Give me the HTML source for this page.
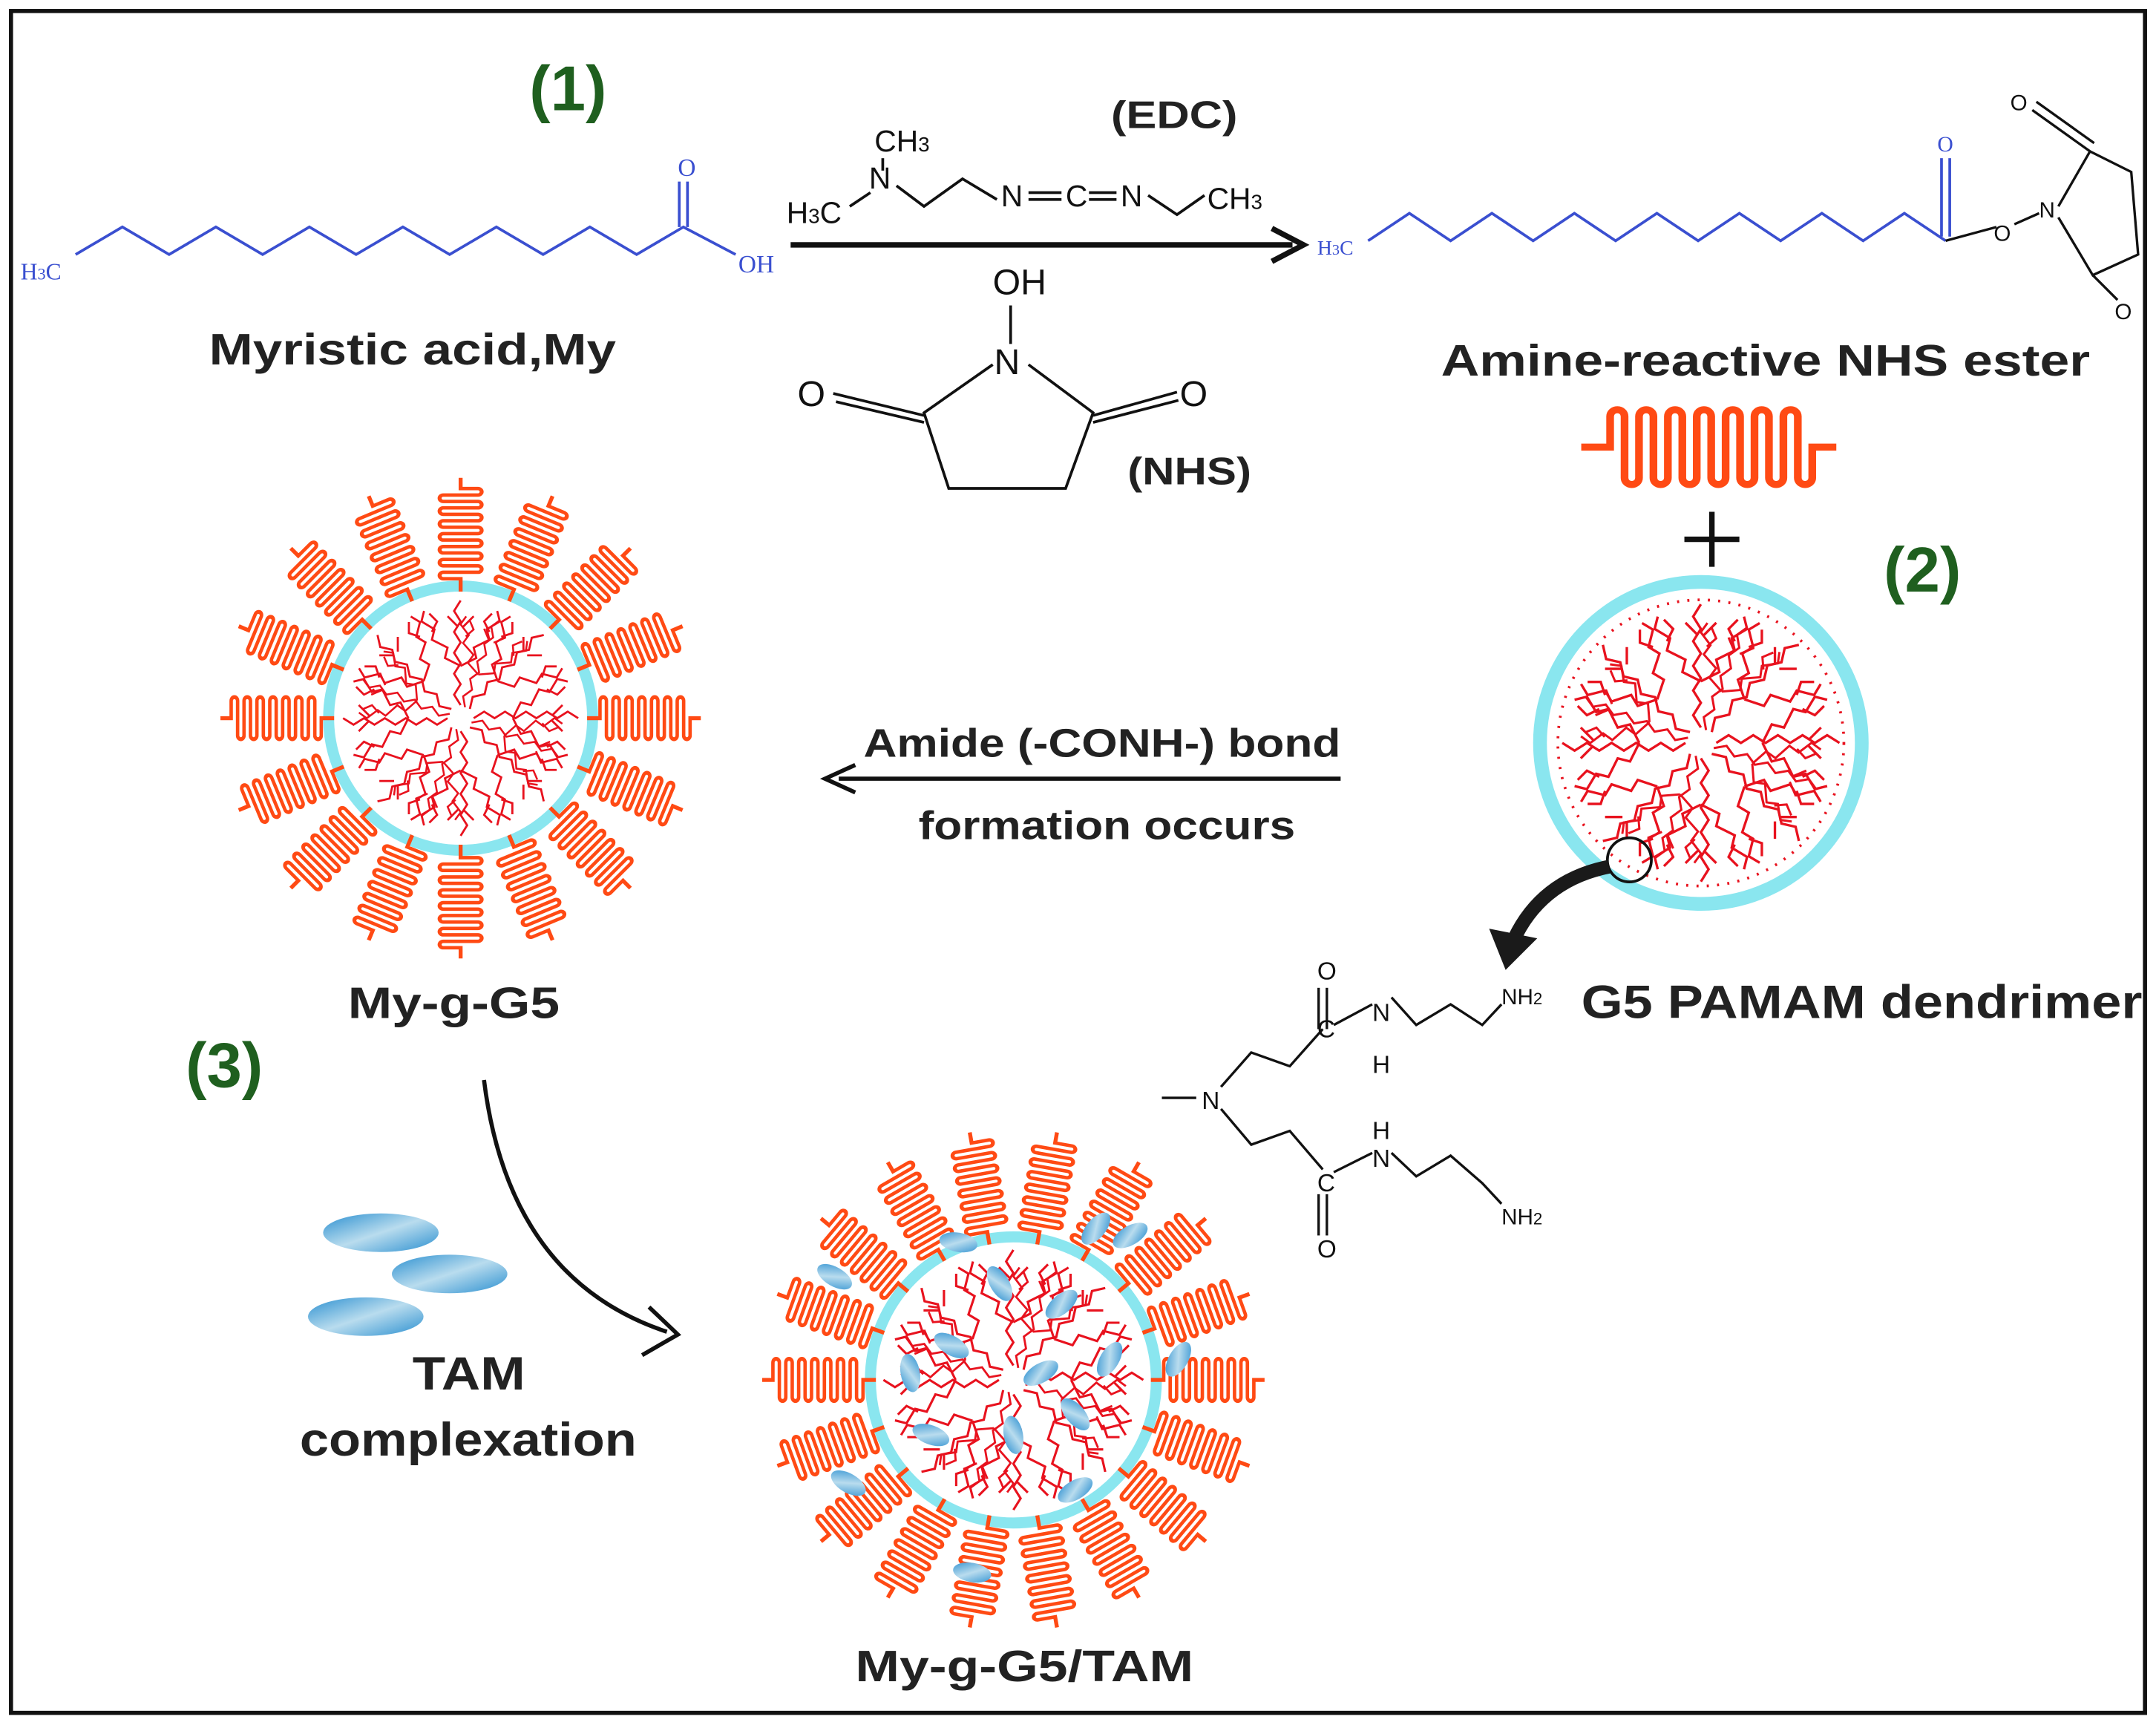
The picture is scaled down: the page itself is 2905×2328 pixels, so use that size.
<!DOCTYPE html>
<html><head><meta charset="utf-8"><style>
html,body{margin:0;padding:0;background:#fff;}
svg{display:block;}
text{font-family:"Liberation Sans",sans-serif;}
.b{font-weight:bold;}
.ser{font-family:"Liberation Serif",serif;}
</style></head><body>
<svg width="2905" height="2328" viewBox="0 0 1568 1256" preserveAspectRatio="none" xmlns="http://www.w3.org/2000/svg">
<defs>
<path id="coil" fill="none" stroke="#ff4a14" stroke-width="3.2" d="M0 0 h12 v-14 a3 3 0 0 1 6 0 v28 a3 3 0 0 0 6 0 v-28 a3 3 0 0 1 6 0 v28 a3 3 0 0 0 6 0 v-28 a3 3 0 0 1 6 0 v28 a3 3 0 0 0 6 0 v-28 a3 3 0 0 1 6 0 v28 a3 3 0 0 0 6 0 v-28 a3 3 0 0 1 6 0 v28 a3 3 0 0 0 6 0 v-28 a3 3 0 0 1 6 0 v28 a3 3 0 0 0 6 0 v-28 a3 3 0 0 1 6 0 v28 a3 3 0 0 0 6 0 v-14 h10"/>
<g id="sc"><use href="#coil" transform="scale(0.78,0.9)"/></g>
<g id="br" fill="none" stroke="#e8121e" stroke-width="1.6">
<path d="M10 0 l8 -5 l8 5 l8 -5 l8 5 l8 -5 l8 5 l8 -5 l8 5 l8 -5 l8 5"/>
<path d="M40 0 l6 -12 l8 2 l6 -12 l8 2 l6 -10 l8 2"/>
<path d="M40 0 l6 12 l8 -2 l6 12 l8 -2 l6 10 l8 -2"/>
<path d="M66 -22 l8 4 l6 -6 M66 22 l8 -4 l6 6 M70 -2 l8 -8 M70 2 l8 8"/>
</g>
<g id="den">
<use href="#br"/><use href="#br" transform="rotate(45)"/><use href="#br" transform="rotate(90)"/><use href="#br" transform="rotate(135)"/>
<use href="#br" transform="rotate(180)"/><use href="#br" transform="rotate(225)"/><use href="#br" transform="rotate(270)"/><use href="#br" transform="rotate(315)"/>
<use href="#br" transform="rotate(22) scale(0.9)"/><use href="#br" transform="rotate(112) scale(0.9)"/><use href="#br" transform="rotate(202) scale(0.9)"/><use href="#br" transform="rotate(292) scale(0.9)"/>
</g>
<linearGradient id="eg" x1="0" y1="0" x2="1" y2="1"><stop offset="0" stop-color="#2a8fd0"/><stop offset="0.5" stop-color="#b9dcee"/><stop offset="1" stop-color="#2a8fd0"/></linearGradient>
<ellipse id="el" rx="14" ry="7" fill="url(#eg)"/>
</defs>

<rect x="8" y="8" width="1552" height="1237" fill="none" stroke="#111" stroke-width="3"/>

<text x="385" y="80" font-size="46" class="b" fill="#1f5f1f">(1)</text>
<text x="1370" y="430" font-size="46" class="b" fill="#1f5f1f">(2)</text>
<text x="135" y="790" font-size="46" class="b" fill="#1f5f1f">(3)</text>

<polyline fill="none" stroke="#3a4fd0" stroke-width="2" points="55,185 89,165 123,185 157,165 191,185 225,165 259,185 293,165 327,185 361,165 395,185 429,165 463,185 497,165 535,185"/>
<line x1="494" y1="165" x2="494" y2="132" stroke="#3a4fd0" stroke-width="2"/><line x1="500" y1="165" x2="500" y2="132" stroke="#3a4fd0" stroke-width="2"/>
<text x="493" y="128" font-size="18" class="ser" fill="#3a4fd0">O</text>
<text x="537" y="198" font-size="18" class="ser" fill="#3a4fd0">OH</text>
<text x="15" y="203" font-size="17" class="ser" fill="#3a4fd0">H<tspan font-size="12">3</tspan>C</text>
<text x="152" y="265" font-size="32" class="b" fill="#222" textLength="296" lengthAdjust="spacingAndGlyphs">Myristic acid,My</text>

<line x1="575" y1="178" x2="940" y2="178" stroke="#111" stroke-width="4"/>
<polyline points="925,166 948,178 925,190" fill="none" stroke="#111" stroke-width="4"/>
<text x="808" y="93" font-size="28" class="b" fill="#222" textLength="92" lengthAdjust="spacingAndGlyphs">(EDC)</text>
<g class="ser" font-size="22" fill="#111">
<text x="572" y="162">H<tspan font-size="15">3</tspan>C</text>
<text x="632" y="137">N</text>
<text x="636" y="110">CH<tspan font-size="15">3</tspan></text>
<text x="728" y="150">N</text>
<text x="775" y="150">C</text>
<text x="815" y="150">N</text>
<text x="878" y="152">CH<tspan font-size="15">3</tspan></text>
</g>
<g stroke="#111" stroke-width="2" fill="none">
<polyline points="618,150 633,140"/><line x1="642" y1="115" x2="642" y2="124"/>
<polyline points="652,135 672,150 700,130 725,145"/>
<line x1="748" y1="140" x2="772" y2="140"/><line x1="748" y1="145" x2="772" y2="145"/>
<line x1="792" y1="140" x2="812" y2="140"/><line x1="792" y1="145" x2="812" y2="145"/>
<polyline points="835,142 856,156 876,142"/>
</g>
<g class="ser" font-size="26" fill="#111">
<text x="722" y="214">OH</text><text x="723" y="272">N</text>
<text x="580" y="295">O</text><text x="858" y="295">O</text>
</g>
<g stroke="#111" stroke-width="2" fill="none">
<line x1="735" y1="222" x2="735" y2="250"/>
<polyline points="722,265 672,300 690,355 775,355 795,300 748,265"/>
<line x1="606" y1="286" x2="672" y2="302"/><line x1="608" y1="292" x2="672" y2="307"/>
<line x1="795" y1="302" x2="856" y2="285"/><line x1="795" y1="307" x2="857" y2="291"/>
</g>
<text x="820" y="352" font-size="28" class="b" fill="#222" textLength="90" lengthAdjust="spacingAndGlyphs">(NHS)</text>

<text x="958" y="185" font-size="15" class="ser" fill="#3a4fd0">H<tspan font-size="11">3</tspan>C</text>
<polyline fill="none" stroke="#3a4fd0" stroke-width="2" points="995,175 1025,155 1055,175 1085,155 1115,175 1145,155 1175,175 1205,155 1235,175 1265,155 1295,175 1325,155 1355,175 1385,155 1415,175"/>
<line x1="1412" y1="172" x2="1412" y2="115" stroke="#3a4fd0" stroke-width="2"/><line x1="1418" y1="172" x2="1418" y2="115" stroke="#3a4fd0" stroke-width="2"/>
<text x="1409" y="110" font-size="16" class="ser" fill="#3a4fd0">O</text>
<g stroke="#111" stroke-width="1.8" fill="none">
<polyline points="1415,175 1452,165"/><polyline points="1465,163 1483,155"/>
<polyline points="1497,150 1520,110 1550,125 1555,185 1522,200 1497,158"/>
<line x1="1520" y1="110" x2="1478" y2="80"/><line x1="1523" y1="104" x2="1481" y2="74"/>
<line x1="1522" y1="200" x2="1540" y2="218"/>
</g>
<g class="ser" font-size="16" fill="#111"><text x="1450" y="175">O</text><text x="1483" y="158">N</text><text x="1462" y="80">O</text><text x="1538" y="232">O</text></g>
<text x="1048" y="273" font-size="32" class="b" fill="#222" textLength="472" lengthAdjust="spacingAndGlyphs">Amine-reactive NHS ester</text>

<use href="#coil" transform="translate(1150,325) scale(1.75,1.6)"/>
<line x1="1245" y1="372" x2="1245" y2="412" stroke="#111" stroke-width="4"/>
<line x1="1225" y1="392" x2="1265" y2="392" stroke="#111" stroke-width="4"/>

<circle cx="1237" cy="540" r="117" fill="#fff" stroke="#8ae6ef" stroke-width="10"/>
<circle cx="1237" cy="540" r="104" fill="none" stroke="#e8121e" stroke-width="2" stroke-dasharray="1.5 6"/>
<use href="#den" transform="translate(1237,540) scale(1.12)"/>
<circle cx="1185" cy="625" r="16" fill="none" stroke="#111" stroke-width="2"/>
<path d="M1170 630 Q1120 640 1100 685" fill="none" stroke="#1a1a1a" stroke-width="10"/>
<polygon points="1083,675 1095,705 1118,682" fill="#1a1a1a"/>
<text x="1150" y="740" font-size="34" class="b" fill="#222" textLength="408" lengthAdjust="spacingAndGlyphs">G5 PAMAM dendrimer</text>

<g stroke="#111" stroke-width="1.8" fill="none">
<polyline points="845,798 870,798"/>
<polyline points="888,790 910,765 938,775 962,748"/>
<line x1="959" y1="748" x2="959" y2="718"/><line x1="965" y1="748" x2="965" y2="718"/>
<line x1="970" y1="745" x2="998" y2="730"/>
<polyline points="1012,725 1030,745 1055,730 1078,745 1092,730"/>
<polyline points="888,806 910,832 938,822 962,850"/>
<line x1="959" y1="868" x2="959" y2="898"/><line x1="965" y1="868" x2="965" y2="898"/>
<line x1="970" y1="852" x2="998" y2="838"/>
<polyline points="1012,838 1030,855 1055,840 1078,860 1092,875"/>
</g>
<g font-size="18" fill="#111">
<text x="874" y="806">N</text><text x="958" y="712">O</text><text x="958" y="754">C</text>
<text x="998" y="742">N</text><text x="998" y="780">H</text><text x="1092" y="730" font-size="16">NH<tspan font-size="12">2</tspan></text>
<text x="998" y="828">H</text><text x="998" y="848">N</text><text x="958" y="866">C</text><text x="958" y="914">O</text>
<text x="1092" y="890" font-size="16">NH<tspan font-size="12">2</tspan></text>
</g>

<line x1="975" y1="566" x2="610" y2="566" stroke="#111" stroke-width="3"/>
<polyline points="622,556 600,566 622,576" fill="none" stroke="#111" stroke-width="3"/>
<text x="628" y="550" font-size="29" class="b" fill="#222" textLength="347" lengthAdjust="spacingAndGlyphs">Amide (-CONH-) bond</text>
<text x="668" y="610" font-size="29" class="b" fill="#222" textLength="274" lengthAdjust="spacingAndGlyphs">formation occurs</text>

<g transform="translate(335,522)">
<circle r="96" fill="#fff" stroke="#8ae6ef" stroke-width="8"/>
<use href="#den" transform="scale(0.95)"/>
<use href="#sc" transform="rotate(0) translate(92,0)"/><use href="#sc" transform="rotate(22.5) translate(92,0)"/>
<use href="#sc" transform="rotate(45) translate(92,0)"/><use href="#sc" transform="rotate(67.5) translate(92,0)"/>
<use href="#sc" transform="rotate(90) translate(92,0)"/><use href="#sc" transform="rotate(112.5) translate(92,0)"/>
<use href="#sc" transform="rotate(135) translate(92,0)"/><use href="#sc" transform="rotate(157.5) translate(92,0)"/>
<use href="#sc" transform="rotate(180) translate(92,0)"/><use href="#sc" transform="rotate(202.5) translate(92,0)"/>
<use href="#sc" transform="rotate(225) translate(92,0)"/><use href="#sc" transform="rotate(247.5) translate(92,0)"/>
<use href="#sc" transform="rotate(270) translate(92,0)"/><use href="#sc" transform="rotate(292.5) translate(92,0)"/>
<use href="#sc" transform="rotate(315) translate(92,0)"/><use href="#sc" transform="rotate(337.5) translate(92,0)"/>
</g>
<text x="253" y="740" font-size="32" class="b" fill="#222" textLength="154" lengthAdjust="spacingAndGlyphs">My-g-G5</text>

<path d="M352 785 Q370 930 485 968" fill="none" stroke="#111" stroke-width="3"/>
<polyline points="472,950 493,970 467,985" fill="none" stroke="#111" stroke-width="3"/>
<ellipse cx="277" cy="896" rx="42" ry="14" fill="url(#eg)"/>
<ellipse cx="327" cy="926" rx="42" ry="14" fill="url(#eg)"/>
<ellipse cx="266" cy="957" rx="42" ry="14" fill="url(#eg)"/>
<text x="300" y="1010" font-size="34" class="b" fill="#222" textLength="82" lengthAdjust="spacingAndGlyphs">TAM</text>
<text x="218" y="1058" font-size="34" class="b" fill="#222" textLength="245" lengthAdjust="spacingAndGlyphs">complexation</text>

<g transform="translate(737,1003)">
<circle r="104" fill="#fff" stroke="#8ae6ef" stroke-width="8"/>
<use href="#den" transform="scale(1.05)"/>
<use href="#sc" transform="rotate(0) translate(100,0)"/><use href="#sc" transform="rotate(20) translate(100,0)"/>
<use href="#sc" transform="rotate(40) translate(100,0)"/><use href="#sc" transform="rotate(60) translate(100,0)"/>
<use href="#sc" transform="rotate(80) translate(100,0)"/><use href="#sc" transform="rotate(100) translate(100,0)"/>
<use href="#sc" transform="rotate(120) translate(100,0)"/><use href="#sc" transform="rotate(140) translate(100,0)"/>
<use href="#sc" transform="rotate(160) translate(100,0)"/><use href="#sc" transform="rotate(180) translate(100,0)"/>
<use href="#sc" transform="rotate(200) translate(100,0)"/><use href="#sc" transform="rotate(220) translate(100,0)"/>
<use href="#sc" transform="rotate(240) translate(100,0)"/><use href="#sc" transform="rotate(260) translate(100,0)"/>
<use href="#sc" transform="rotate(280) translate(100,0)"/><use href="#sc" transform="rotate(300) translate(100,0)"/>
<use href="#sc" transform="rotate(320) translate(100,0)"/><use href="#sc" transform="rotate(340) translate(100,0)"/>
<use href="#el" transform="translate(0,40) rotate(80)"/><use href="#el" transform="translate(-45,-25) rotate(30)"/>
<use href="#el" transform="translate(35,-55) rotate(-40)"/><use href="#el" transform="translate(-60,40) rotate(20)"/>
<use href="#el" transform="translate(45,25) rotate(50)"/><use href="#el" transform="translate(-10,-70) rotate(60)"/>
<use href="#el" transform="translate(70,-15) rotate(-60)"/><use href="#el" transform="translate(20,-5) rotate(-30)"/>
<use href="#el" transform="translate(-75,-5) rotate(80)"/><use href="#el" transform="translate(-40,-100) rotate(10)"/>
<use href="#el" transform="translate(-130,-75) rotate(30)"/><use href="#el" transform="translate(85,-105) rotate(-30)"/>
<use href="#el" transform="translate(120,-15) rotate(-60)"/><use href="#el" transform="translate(-120,75) rotate(30)"/>
<use href="#el" transform="translate(45,80) rotate(-30)"/><use href="#el" transform="translate(-30,140) rotate(10)"/>
<use href="#el" transform="translate(60,-110) rotate(-50)"/>
</g>
<text x="622" y="1222" font-size="32" class="b" fill="#222" textLength="246" lengthAdjust="spacingAndGlyphs">My-g-G5/TAM</text>
</svg>
</body></html>
